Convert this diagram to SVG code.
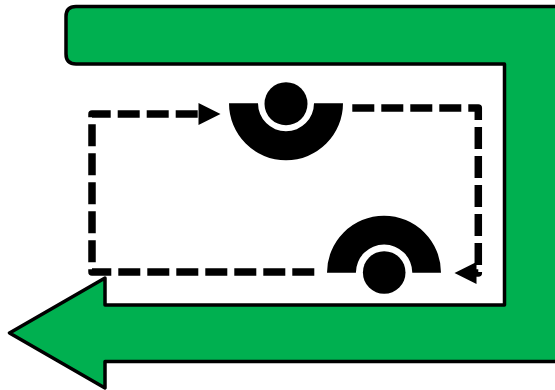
<svg xmlns="http://www.w3.org/2000/svg" width="555" height="390" viewBox="0 0 555 390">
  <style>
    .flow { fill: none; stroke: #000; stroke-width: 7.5; stroke-dasharray: 22 7; stroke-linejoin: round; }
    .symbol { fill: #000; }
  </style>
  <defs>
    <marker id="head" markerUnits="userSpaceOnUse" markerWidth="23" markerHeight="24" refX="1" refY="11" orient="auto" overflow="visible">
      <path d="M0,0 L22,11 L0,22 Z" fill="#000"/>
    </marker>
  </defs>
  <rect width="555" height="390" fill="#fff"/>
  <g id="track">
    <path d="M558,6.5 L76,6.5 Q66,6.5 66,16.5 L66,54 Q66,64 76,64 L504.5,64 L504.5,305 L105,305 L105,278 L9.5,333 L105,388 L105,361.5 L558,361.5 Z" fill="#00B050" stroke="#000" stroke-width="3.5" stroke-linejoin="round"/>
  </g>
  <g id="connectors">
    <path class="flow" d="M352.3,108 L478.3,108 L478.3,273 L475.5,273" marker-end="url(#head)"/>
    <path class="flow" d="M314.3,272 L92,272 L92,114 L199.5,114" marker-end="url(#head)"/>
  </g>
  <g id="node-top">
    <path class="symbol" d="M229,103.3 A57,57 0 0 0 343,103.3 L314,103.3 A28,28 0 0 1 258,103.3 Z"/>
    <circle class="symbol" cx="286" cy="103.7" r="21.5"/>
  </g>
  <g id="node-bottom">
    <path class="symbol" d="M327,272.7 A57,57 0 0 1 441,272.7 L412.3,272.7 A28.2,28.2 0 0 0 355.9,272.7 Z"/>
    <circle class="symbol" cx="384.2" cy="272.5" r="21.3"/>
  </g>
</svg>
